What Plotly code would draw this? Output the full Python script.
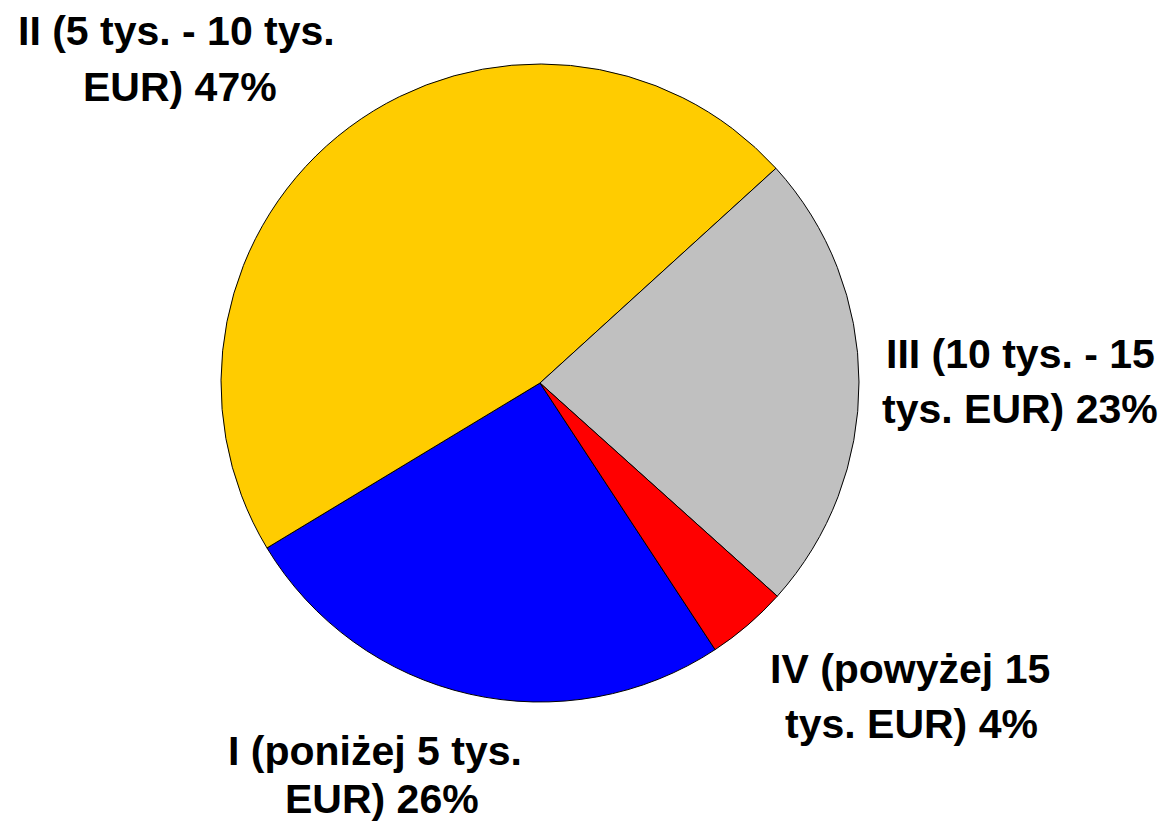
import plotly.graph_objects as go

# slice data (clockwise, starting from slice I)
labels = ["I", "II", "III", "IV"]
values = [25.6, 46.9, 23.4, 4.1]
colors = ["#0000FF", "#FFCC00", "#C0C0C0", "#FF0000"]
label_line1 = ["I (poniżej 5 tys.", "II (5 tys. - 10 tys.", "III (10 tys. - 15", "IV (powyżej 15"]
label_line2 = ["EUR)", "EUR)", "tys. EUR)", "tys. EUR)"]

W, H = 1171, 824
OFF = 8  # page body margin

fig = go.Figure()
fig.add_trace(go.Pie(
    labels=labels,
    values=values,
    sort=False,
    direction="clockwise",
    rotation=146.7,
    marker=dict(colors=colors, line=dict(color="black", width=1)),
    textinfo="none",
    hoverinfo="label+percent",
    showlegend=False,
    domain=dict(x=[(221 - OFF) / W, (859 - OFF) / W],
                y=[(H - 702 + OFF) / H, (H - 64 + OFF) / H]),
))

# label positions in pixels (centre of each text line)
label_pos = [
    ((375, 751), (382, 799)),
    ((176, 31), (180, 87)),
    ((1020, 354), (1020, 409)),
    ((910, 669), (911, 724)),
]

total = sum(values)
font = dict(family="Liberation Sans, Arial, sans-serif", size=41, color="black")
for i, lab in enumerate(labels):
    pct = round(values[i] / total * 100)
    lines = [label_line1[i], f"{label_line2[i]} {pct}%"]
    for txt, (px_, py_) in zip(lines, label_pos[i]):
        fig.add_annotation(
            x=(px_ - OFF) / W, y=1 - (py_ - OFF) / H, xref="paper", yref="paper",
            text=f"<b>{txt}</b>", showarrow=False,
            xanchor="center", yanchor="middle", font=font,
        )

fig.update_layout(
    width=W, height=H,
    margin=dict(l=0, r=0, t=0, b=0),
    paper_bgcolor="white",
    plot_bgcolor="white",
)

fig.write_html("out.html")
